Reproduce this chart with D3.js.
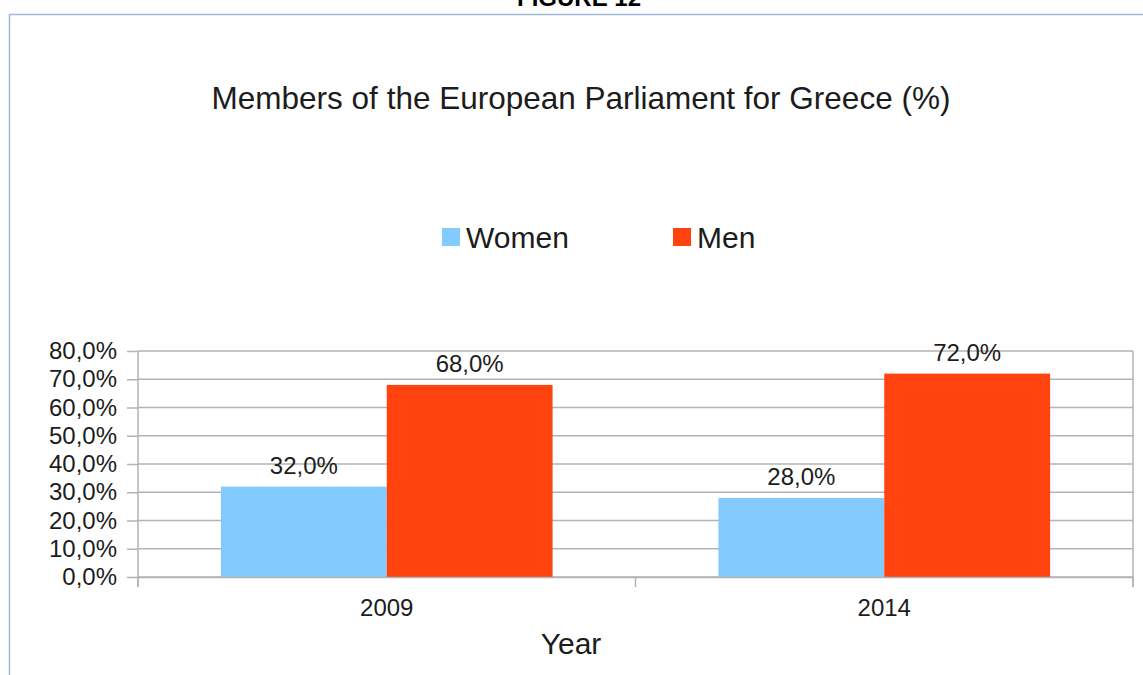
<!DOCTYPE html>
<html>
<head>
<meta charset="utf-8">
<script src="https://cdn.jsdelivr.net/npm/d3@7"></script>
<style>
  html, body { margin: 0; padding: 0; background: #fff; }
  svg { display: block; font-family: "Liberation Sans", Arial, sans-serif; }
</style>
</head>
<body>
<svg id="chart" width="1143" height="675"></svg>
<script>
// ---- data ----
const categories = ["2009", "2014"];
const seriesNames = ["Women", "Men"];
const women = [32.0, 28.0];
const men = [68.0, 72.0];
const yTicks = [0, 10, 20, 30, 40, 50, 60, 70, 80];
const colors = ["#83caff", "#ff420e"];
const titleText = "Members of the European Parliament for Greece (%)";
const xTitle = "Year";
const figureLabel = "FIGURE 12";

const seriesValues = [women, men];

const svg = d3.select("#chart");
const textColor = "#1c1c1c";
const gridColor = "#b3b3b3";

// frame (document figure border)
svg.append("line").attr("x1", 9).attr("x2", 1143).attr("y1", 14.5).attr("y2", 14.5)
  .attr("stroke", "#9fb8dc").attr("stroke-width", 1.5);
svg.append("line").attr("x1", 9.5).attr("x2", 9.5).attr("y1", 14).attr("y2", 675)
  .attr("stroke", "#9fb8dc").attr("stroke-width", 1.5);

svg.append("text").attr("x", 579).attr("y", 6).attr("text-anchor", "middle")
  .attr("font-weight", "bold").attr("font-size", 24).attr("fill", "#000")
  .text(figureLabel);

// plot geometry
const plot = { left: 138, right: 1133, top: 351, bottom: 577 };

const x = d3.scaleBand().domain(categories).range([plot.left, plot.right]).padding(0);
const xs = d3.scaleBand().domain(seriesNames).range([0, x.bandwidth()])
  .paddingInner(0).paddingOuter(0.5);
const y = d3.scaleLinear().domain([0, 80]).range([plot.bottom, plot.top]);

const locale = d3.formatLocale({ decimal: ",", thousands: ".", grouping: [3], currency: ["", "€"] });
const fmt = v => locale.format(".1f")(v) + "%";

// gridlines
svg.append("g").selectAll("line").data(yTicks).join("line")
  .attr("x1", plot.left).attr("x2", plot.right)
  .attr("y1", d => y(d)).attr("y2", d => y(d))
  .attr("stroke", gridColor).attr("stroke-width", 1.5);

// y axis
const yAxis = svg.append("g").attr("transform", `translate(${plot.left},0)`)
  .call(d3.axisLeft(y).tickValues(yTicks).tickFormat(fmt).tickSize(11).tickPadding(10));
yAxis.select(".domain").remove();
yAxis.selectAll(".tick line").attr("stroke", gridColor).attr("stroke-width", 1.5);
yAxis.selectAll(".tick text").attr("font-size", 24).attr("fill", textColor)
  .attr("font-family", "Liberation Sans, Arial, sans-serif");
svg.append("line").attr("x1", plot.left).attr("x2", plot.left)
  .attr("y1", plot.top).attr("y2", plot.bottom + 10)
  .attr("stroke", gridColor).attr("stroke-width", 1.5);
svg.append("line").attr("x1", plot.right).attr("x2", plot.right)
  .attr("y1", plot.top).attr("y2", plot.bottom + 10)
  .attr("stroke", gridColor).attr("stroke-width", 1.5);

// bars
const groups = svg.append("g").selectAll("g").data(categories).join("g")
  .attr("transform", d => `translate(${x(d)},0)`);
groups.selectAll("rect").data((c, i) => seriesNames.map((s, j) => ({ s, j, v: seriesValues[j][i] })))
  .join("rect")
  .attr("x", d => xs(d.s)).attr("width", xs.bandwidth())
  .attr("y", d => y(d.v)).attr("height", d => y(0) - y(d.v))
  .attr("fill", d => colors[d.j]);
groups.selectAll("text").data((c, i) => seriesNames.map((s, j) => ({ s, j, v: seriesValues[j][i] })))
  .join("text")
  .attr("x", d => xs(d.s) + xs.bandwidth() / 2).attr("y", d => y(d.v) - 13)
  .attr("text-anchor", "middle").attr("font-size", 24).attr("fill", textColor)
  .text(d => fmt(d.v));

// x axis
const xAxis = svg.append("g").attr("transform", `translate(0,${plot.bottom})`)
  .call(d3.axisBottom(x).tickSize(0).tickPadding(22));
xAxis.select(".domain").attr("stroke", gridColor).attr("stroke-width", 1.5);
xAxis.selectAll(".tick text").attr("font-size", 24).attr("fill", textColor)
  .attr("font-family", "Liberation Sans, Arial, sans-serif");
// category boundary ticks
const bounds = categories.map(c => x(c)).concat([x(categories[categories.length - 1]) + x.bandwidth()]);
svg.append("g").selectAll("line").data(bounds).join("line")
  .attr("x1", d => d).attr("x2", d => d).attr("y1", plot.bottom).attr("y2", plot.bottom + 10)
  .attr("stroke", gridColor).attr("stroke-width", 1.5);

// axis title
svg.append("text").attr("x", 571).attr("y", 654).attr("text-anchor", "middle")
  .attr("font-size", 30).attr("fill", textColor).text(xTitle);

// chart title
svg.append("text").attr("x", 581).attr("y", 109).attr("text-anchor", "middle")
  .attr("font-size", 31.5).attr("fill", textColor).text(titleText);

// legend
const legendX = [442, 673];
const legend = svg.append("g").selectAll("g").data(seriesNames).join("g")
  .attr("transform", (d, i) => `translate(${legendX[i]},228)`);
legend.append("rect").attr("width", 18).attr("height", 18).attr("fill", (d, i) => colors[i]);
legend.append("text").attr("x", 24).attr("y", 20).attr("font-size", 30)
  .attr("fill", textColor).text(d => d);
</script>
</body>
</html>
